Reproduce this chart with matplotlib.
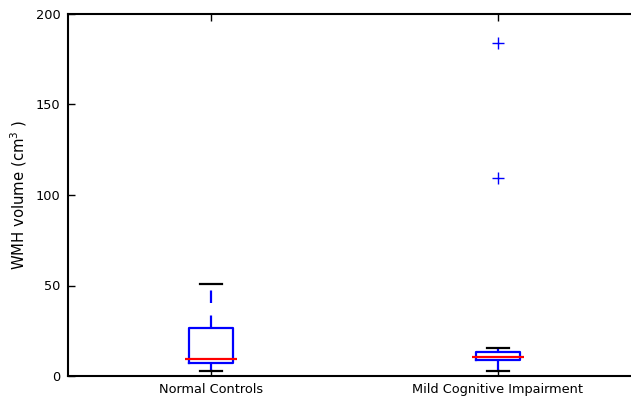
import matplotlib
matplotlib.use("Agg")
import matplotlib.pyplot as plt

# Box statistics (cm^3)
groups = ["Normal Controls", "Mild Cognitive Impairment"]
whislo = [2.5, 2.8]
q1 = [7.3, 8.7]
medians = [9.4, 10.7]
q3 = [26.5, 13.1]
whishi = [50.8, 15.6]
outliers = [[], [109.3, 184.1]]

plt.rcParams["lines.scale_dashes"] = False

stats = []
for i in range(len(groups)):
    stats.append(
        {
            "label": groups[i],
            "whislo": whislo[i],
            "q1": q1[i],
            "med": medians[i],
            "q3": q3[i],
            "whishi": whishi[i],
            "fliers": outliers[i],
        }
    )

fig = plt.figure(figsize=(6.31, 4.0), dpi=100)
ax = fig.add_axes([67.5 / 631, 24 / 400, 574 / 631, 362 / 400])

bp = ax.bxp(
    stats,
    widths=0.15,
    boxprops=dict(color="blue", linewidth=1.6),
    medianprops=dict(color="red", linewidth=1.6),
    whiskerprops=dict(color="blue", linewidth=1.6, linestyle=(0, (9, 9))),
    capprops=dict(color="black", linewidth=1.6),
    flierprops=dict(marker="+", markeredgecolor="blue", markersize=9,
                    markeredgewidth=1.0, linestyle="none"),
)

# median bar sticks out a little past the box edges
for line in bp["medians"]:
    xs = line.get_xdata()
    line.set_xdata([xs[0] - 0.014, xs[1] + 0.014])

ax.set_xlim(0.5, 2.5)
ax.set_ylim(0, 200)
ax.set_yticks([0, 50, 100, 150, 200])
ax.set_ylabel("WMH volume (cm$^3$ )", fontsize=10.7, labelpad=5)

ax.tick_params(axis="both", direction="in", length=5, width=1, labelsize=9.3, pad=5)
ax.tick_params(axis="x", top=True, bottom=True)
ax.tick_params(axis="y", left=True, right=False)
for s in ax.spines.values():
    s.set_linewidth(1.5)

fig.savefig("out.png", dpi=100)
